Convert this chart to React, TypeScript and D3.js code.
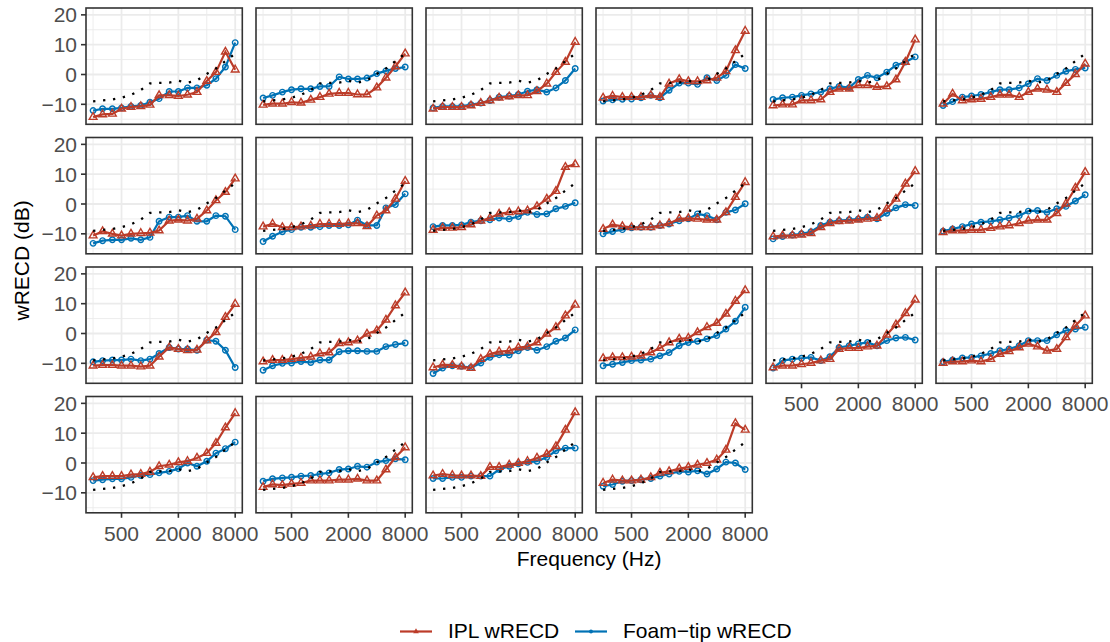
import React from "react";
import * as d3 from "d3";

const FREQS = [250, 315, 400, 500, 630, 800, 1000, 1250, 1600, 2000, 2500, 3150, 4000, 5000, 6300, 8000];
const X_TICKS = [500, 2000, 8000];
const X_MINOR = [250, 1000, 4000];
const Y_TICKS = [-10, 0, 10, 20];
const Y_MINOR = [-15, -5, 5, 15];
const Y_DOMAIN = [-16.7, 22.3];

const TARGET = [-9.0, -8.7, -8.4, -7.8, -6.8, -5.2, -3.0, -2.8, -2.7, -2.1, -2.7, -2.0, 0.2, 2.0, 4.5, 7.0];

const IPL: number[][] = [
  [-14.3, -13.4, -13.2, -11.5, -10.9, -10.7, -10.2, -7.0, -7.0, -7.2, -6.8, -5.9, -2.2, 0.8, 7.6, 1.6],
  [-10.2, -9.8, -9.8, -9.3, -9.5, -8.5, -7.6, -6.5, -6.2, -6.2, -6.7, -6.7, -4.4, -1.1, 2.7, 7.0],
  [-11.5, -10.9, -10.9, -10.9, -10.4, -9.6, -8.7, -7.8, -7.4, -7.0, -7.0, -5.6, -3.1, 0.8, 4.2, 10.9],
  [-7.8, -7.2, -7.6, -7.6, -7.6, -7.0, -7.6, -3.1, -1.6, -2.3, -2.3, -2.0, -1.1, 1.1, 8.1, 14.6],
  [-10.4, -10.1, -10.1, -8.7, -8.7, -8.4, -5.9, -4.8, -4.8, -3.6, -3.6, -4.2, -4.0, -1.7, 4.2, 11.7],
  [-9.8, -6.5, -8.7, -8.4, -8.2, -7.6, -6.8, -6.8, -7.6, -5.9, -4.8, -5.1, -5.9, -2.9, 0.1, 3.6],
  [-10.6, -9.2, -10.0, -10.6, -10.0, -9.8, -9.7, -8.9, -5.6, -5.3, -5.6, -5.0, -2.2, 1.2, 4.0, 8.5],
  [-7.6, -6.7, -7.8, -7.8, -7.6, -7.3, -6.7, -6.7, -6.7, -6.5, -6.5, -7.5, -3.9, -2.2, 1.7, 7.7],
  [-8.7, -8.0, -8.0, -7.8, -6.9, -5.6, -4.7, -3.3, -2.8, -2.5, -2.2, -0.8, 1.7, 4.3, 12.4, 13.3],
  [-8.4, -6.9, -7.5, -7.8, -7.8, -7.8, -7.2, -6.5, -5.0, -4.8, -5.0, -5.3, -5.3, -2.8, 2.3, 7.3],
  [-10.9, -10.6, -10.6, -10.3, -9.8, -7.8, -6.5, -5.8, -5.6, -5.3, -5.0, -4.7, -1.6, 1.7, 6.8, 11.0],
  [-9.5, -8.9, -8.9, -8.7, -8.7, -8.1, -7.6, -7.2, -6.5, -5.6, -5.3, -5.3, -3.1, 0.1, 5.4, 10.7],
  [-10.8, -10.6, -10.6, -10.8, -10.8, -11.1, -10.8, -7.8, -4.7, -5.2, -5.6, -5.5, -2.4, 0.4, 5.5, 9.9],
  [-9.4, -8.9, -8.9, -8.6, -8.2, -7.8, -6.7, -6.4, -3.3, -3.0, -2.4, -0.1, 1.0, 4.6, 9.4, 13.7],
  [-11.4, -10.5, -10.6, -11.1, -11.6, -8.6, -6.9, -6.1, -5.8, -4.7, -4.4, -3.0, -0.1, 2.1, 6.0, 9.6],
  [-8.3, -8.0, -8.0, -7.8, -7.5, -6.4, -4.9, -3.0, -1.8, -1.5, 0.4, 2.1, 3.5, 6.6, 10.9, 14.5],
  [-11.4, -10.8, -10.8, -10.3, -9.9, -9.1, -8.6, -5.2, -4.9, -4.9, -4.4, -4.1, -0.4, 3.0, 6.8, 11.3],
  [-9.9, -9.4, -9.4, -9.1, -9.4, -8.6, -6.9, -6.0, -4.7, -3.5, -4.4, -5.8, -5.2, -1.3, 2.6, 6.0],
  [-4.8, -4.4, -4.4, -4.4, -3.9, -3.7, -3.0, -1.1, -0.6, 0.2, 0.6, 1.7, 3.3, 6.7, 11.9, 16.7],
  [-8.1, -7.2, -7.4, -7.0, -6.7, -5.9, -5.9, -5.9, -5.6, -5.6, -5.3, -5.9, -5.9, -2.2, 1.9, 5.2],
  [-4.2, -3.7, -4.1, -4.2, -4.2, -4.4, -1.4, -1.4, -0.6, 0.0, 0.6, 1.7, 3.0, 5.6, 11.1, 17.0],
  [-6.7, -5.6, -5.9, -5.9, -5.6, -4.8, -3.3, -2.8, -1.9, -1.4, -0.6, 0.0, 1.1, 4.4, 13.3, 11.1],
];

const FOAM: number[][] = [
  [-12.1, -11.5, -11.5, -11.2, -10.7, -10.4, -9.3, -8.1, -5.7, -5.7, -4.5, -4.5, -3.6, -1.4, 2.5, 10.7],
  [-7.9, -7.0, -5.9, -5.1, -4.8, -4.8, -4.0, -4.0, -0.8, -1.5, -1.5, -1.2, 0.3, 1.2, 2.0, 2.5],
  [-11.2, -10.7, -10.7, -10.7, -10.1, -9.6, -8.7, -7.6, -7.2, -6.7, -5.6, -5.1, -5.9, -4.5, -2.0, 2.0],
  [-8.9, -8.5, -8.3, -8.2, -7.8, -7.0, -7.8, -5.3, -2.9, -2.9, -3.3, -1.1, -2.0, -0.3, 3.3, 2.0],
  [-8.4, -7.8, -7.6, -7.0, -6.5, -5.9, -4.8, -4.0, -4.4, -1.7, -0.3, -1.1, 0.8, 3.1, 4.2, 5.9],
  [-10.4, -9.1, -7.6, -7.2, -6.7, -5.9, -5.1, -5.1, -4.5, -3.1, -1.4, -2.0, -0.3, 1.1, 1.7, 2.2],
  [-13.2, -12.3, -12.0, -12.0, -11.5, -12.0, -11.2, -5.8, -4.4, -4.4, -3.9, -5.8, -5.8, -3.9, -4.1, -8.6],
  [-12.6, -10.8, -9.3, -8.6, -7.8, -7.8, -7.6, -7.2, -7.2, -7.0, -5.4, -7.2, -7.2, -1.3, -0.2, 3.4],
  [-7.6, -7.2, -7.2, -7.0, -6.1, -5.6, -5.3, -4.7, -5.0, -4.2, -2.8, -3.5, -3.3, -1.6, -0.8, 0.4],
  [-10.0, -9.2, -8.6, -8.0, -7.8, -7.8, -7.2, -6.7, -5.6, -5.0, -3.3, -3.9, -5.3, -2.8, -2.0, 0.1],
  [-11.7, -10.9, -10.4, -10.0, -9.3, -7.2, -6.1, -5.6, -5.3, -5.0, -4.4, -5.0, -3.1, -1.3, -0.2, -0.5],
  [-9.1, -8.4, -7.6, -6.7, -6.1, -5.8, -5.3, -4.7, -3.9, -2.4, -2.2, -2.8, -1.6, -0.8, 1.0, 3.1],
  [-9.5, -9.1, -8.9, -8.9, -8.6, -9.1, -8.6, -6.7, -4.7, -5.2, -5.2, -5.6, -2.2, -2.6, -5.6, -11.4],
  [-12.3, -10.8, -10.0, -9.9, -9.4, -9.7, -8.9, -8.9, -6.1, -5.8, -5.8, -6.0, -6.0, -4.4, -3.7, -3.2],
  [-13.4, -11.6, -10.8, -11.0, -11.4, -9.9, -8.0, -7.1, -7.2, -5.8, -4.7, -5.6, -4.4, -2.6, -1.5, 1.2],
  [-10.8, -10.3, -9.7, -9.1, -8.9, -8.6, -7.5, -6.4, -4.1, -3.0, -2.6, -1.8, -0.7, 1.5, 4.1, 8.8],
  [-11.6, -9.1, -8.6, -8.3, -8.0, -9.1, -7.8, -4.7, -4.1, -3.5, -3.0, -4.1, -2.4, -1.5, -1.3, -2.2],
  [-9.5, -8.9, -8.2, -8.0, -7.5, -6.7, -5.8, -5.2, -4.1, -2.4, -2.4, -2.4, -0.4, 1.0, 1.5, 2.1],
  [-5.9, -5.6, -5.3, -5.3, -4.8, -4.2, -3.9, -3.3, -2.8, -1.9, 0.0, -1.1, 0.6, 3.3, 4.8, 7.0],
  [-6.1, -5.3, -5.0, -4.8, -4.4, -4.2, -3.7, -3.3, -2.2, -2.0, -1.1, -1.4, 0.3, 0.8, 1.4, 1.1],
  [-5.2, -5.2, -4.8, -4.8, -4.4, -4.4, -4.4, -2.2, -1.1, -0.3, 0.2, 0.6, 1.9, 4.1, 5.0, 5.0],
  [-7.8, -7.2, -6.1, -5.9, -5.6, -5.2, -4.4, -3.7, -2.8, -3.0, -2.6, -3.7, -2.0, 0.3, 0.0, -2.2],
];

const SERIES_NAMES = ["IPL wRECD", "Foam\u2212tip wRECD"];
const RED = "#BC3C29";
const BLUE = "#0072B5";

const W = 1110;
const H = 642;
const NCOL = 6;
const PANEL_LEFT = 86;
const PANEL_TOP = 8;
const PW = 156.3;
const PH = 116.3;
const COL_STEP = 170;
const ROW_STEP = 129.5;
const FONT = "'Liberation Sans', Arial, Helvetica, sans-serif";
const FS = 21;

const x = d3
  .scaleLog()
  .domain([250 / Math.pow(2, 0.25), 8000 * Math.pow(2, 0.25)])
  .range([0, PW]);
const y = d3.scaleLinear().domain(Y_DOMAIN).range([PH, 0]);

const line = d3
  .line<number>()
  .x((_, i) => x(FREQS[i]))
  .y((d) => y(d));

const triPath = d3.symbol(d3.symbolTriangle, 26)()!;
const circPath = d3.symbol(d3.symbolCircle, 24)()!;
const triSmall = d3.symbol(d3.symbolTriangle, 14)()!;
const circSmall = d3.symbol(d3.symbolCircle, 12)()!;

function Panel({ idx }: { idx: number }) {
  const col = idx % NCOL;
  const row = Math.floor(idx / NCOL);
  const px = PANEL_LEFT + col * COL_STEP;
  const py = PANEL_TOP + row * ROW_STEP;
  const n = IPL.length;
  const hasBottomAxis = idx + NCOL >= n;
  const hasLeftAxis = col === 0;
  return (
    <g transform={`translate(${px},${py})`}>
      <rect x={0} y={0} width={PW} height={PH} fill="#FFFFFF" />
      {Y_MINOR.map((v) => (
        <line key={"ym" + v} x1={0} x2={PW} y1={y(v)} y2={y(v)} stroke="#EBEBEB" strokeWidth={0.9} />
      ))}
      {X_MINOR.map((v) => (
        <line key={"xm" + v} x1={x(v)} x2={x(v)} y1={0} y2={PH} stroke="#EBEBEB" strokeWidth={0.9} />
      ))}
      {Y_TICKS.map((v) => (
        <line key={"yM" + v} x1={0} x2={PW} y1={y(v)} y2={y(v)} stroke="#EBEBEB" strokeWidth={1.8} />
      ))}
      {X_TICKS.map((v) => (
        <line key={"xM" + v} x1={x(v)} x2={x(v)} y1={0} y2={PH} stroke="#EBEBEB" strokeWidth={1.8} />
      ))}
      <path d={line(FOAM[idx])!} fill="none" stroke={BLUE} strokeWidth={2.2} />
      {FOAM[idx].map((v, i) => (
        <path key={"fp" + i} d={circPath} transform={`translate(${x(FREQS[i])},${y(v)})`} fill="none" stroke={BLUE} strokeWidth={1.4} />
      ))}
      <path d={line(IPL[idx])!} fill="none" stroke={RED} strokeWidth={2.2} />
      {IPL[idx].map((v, i) => (
        <path key={"ip" + i} d={triPath} transform={`translate(${x(FREQS[i])},${y(v)})`} fill="none" stroke={RED} strokeWidth={1.4} />
      ))}
      <path d={line(TARGET)!} fill="none" stroke="#000000" strokeWidth={2.3} strokeDasharray="2.3 7.7" />
      <rect x={0} y={0} width={PW} height={PH} fill="none" stroke="#333333" strokeWidth={1.6} />
      {hasLeftAxis &&
        Y_TICKS.map((v) => (
          <g key={"yt" + v} transform={`translate(0,${y(v)})`}>
            <line x1={-5} x2={0} y1={0} y2={0} stroke="#333333" strokeWidth={1.6} />
            <text x={-9} y={0} dy="0.36em" textAnchor="end" fontSize={FS} fill="#4D4D4D" fontFamily={FONT}>
              {v < 0 ? "\u2212" + Math.abs(v) : String(v)}
            </text>
          </g>
        ))}
      {hasBottomAxis &&
        X_TICKS.map((v) => (
          <g key={"xt" + v} transform={`translate(${x(v)},${PH})`}>
            <line x1={0} x2={0} y1={0} y2={5} stroke="#333333" strokeWidth={1.6} />
            <text x={0} y={28} textAnchor="middle" fontSize={FS} fill="#4D4D4D" fontFamily={FONT}>
              {v}
            </text>
          </g>
        ))}
    </g>
  );
}

export default function App() {
  const plotRight = PANEL_LEFT + (NCOL - 1) * COL_STEP + PW;
  const plotBottom = PANEL_TOP + 3 * ROW_STEP + PH;
  const cx = (PANEL_LEFT + plotRight) / 2;
  const cy = (PANEL_TOP + plotBottom) / 2;
  return (
    <div style={{ position: "absolute", left: 0, top: 0 }}>
      <svg width={W} height={H} style={{ display: "block", background: "#FFFFFF" }}>
        <rect x={0} y={0} width={W} height={H} fill="#FFFFFF" />
        {IPL.map((_, i) => (
          <Panel key={i} idx={i} />
        ))}
        <text x={cx} y={566} textAnchor="middle" fontSize={FS} fill="#000000" fontFamily={FONT}>
          Frequency (Hz)
        </text>
        <text
          transform={`translate(29,${cy}) rotate(-90)`}
          textAnchor="middle"
          fontSize={FS}
          fill="#000000"
          fontFamily={FONT}
        >
          wRECD (dB)
        </text>
        <g>
          <line x1={400} x2={432} y1={631.5} y2={631.5} stroke={RED} strokeWidth={2.2} />
          <path d={triSmall} transform="translate(416,631.5)" fill={RED} />
          <text x={448} y={638} fontSize={FS} fill="#000000" fontFamily={FONT}>
            {SERIES_NAMES[0]}
          </text>
          <line x1={575} x2={607} y1={631.5} y2={631.5} stroke={BLUE} strokeWidth={2.2} />
          <path d={circSmall} transform="translate(591,631.5)" fill={BLUE} />
          <text x={623} y={638} fontSize={FS} fill="#000000" fontFamily={FONT}>
            {SERIES_NAMES[1]}
          </text>
        </g>
      </svg>
    </div>
  );
}
